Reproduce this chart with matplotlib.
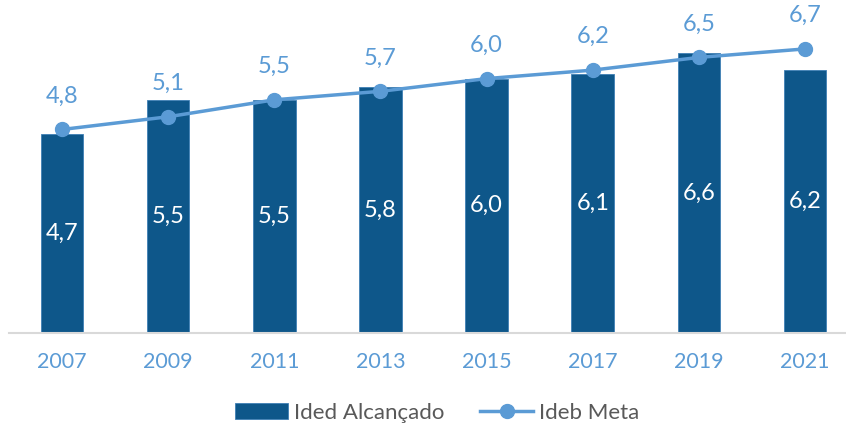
import matplotlib
matplotlib.use('Agg')
import matplotlib.pyplot as plt
import numpy as np

years = ['2007', '2009', '2011', '2013', '2015', '2017', '2019', '2021']
alcancado = [4.7, 5.5, 5.5, 5.8, 6.0, 6.1, 6.6, 6.2]
meta = [4.8, 5.1, 5.5, 5.7, 6.0, 6.2, 6.5, 6.7]

BAR = '#0E578A'
LINE = '#5B9BD5'

plt.rcParams['font.family'] = ['Lato', 'DejaVu Sans']

W, H = 846, 430
fig = plt.figure(figsize=(W / 100, H / 100), dpi=100)
# plot area: x from 9 to 858 px (runs a little off the right edge), y from 0 to 333 px
ax = fig.add_axes([9 / W, (H - 333) / H, (858 - 9) / W, 333 / H])

x = np.arange(len(years))
bars = ax.bar(x, alcancado, width=0.4, color=BAR, edgecolor='#3F7FB5', linewidth=0.6,
              label='Ided Alcançado', zorder=2)
line, = ax.plot(x, meta, color=LINE, lw=2.5, marker='o', ms=10, label='Ideb Meta', zorder=3)

for xi, v in zip(x, alcancado):
    ax.text(xi, v / 2, f'{v:.1f}'.replace('.', ','), ha='center', va='center',
            color='white', fontsize=17)
for xi, v in zip(x, meta):
    ax.annotate(f'{v:.1f}'.replace('.', ','), (xi, v), xytext=(0, 24), textcoords='offset points',
                ha='center', va='center', color=LINE, fontsize=17)

ax.set_xlim(-0.5, len(years) - 0.5)
ax.set_ylim(0, 333 / 42.4)
ax.set_xticks(x)
ax.set_xticklabels(years, color=LINE, fontsize=15.5)
ax.tick_params(axis='x', length=0, pad=14)
ax.set_yticks([])
for s in ['top', 'right', 'left']:
    ax.spines[s].set_visible(False)
ax.spines['bottom'].set_color('#D9D9D9')
ax.spines['bottom'].set_linewidth(1.5)

leg = fig.legend([bars, line], ['Ided Alcançado', 'Ideb Meta'], loc='center',
                 bbox_to_anchor=(437 / W, 1 - 413 / H), ncol=2, frameon=False,
                 fontsize=16, handlelength=2.4, columnspacing=1.6, handletextpad=0.25)
for t in leg.get_texts():
    t.set_color('#595959')

fig.savefig('out.png', dpi=100)
